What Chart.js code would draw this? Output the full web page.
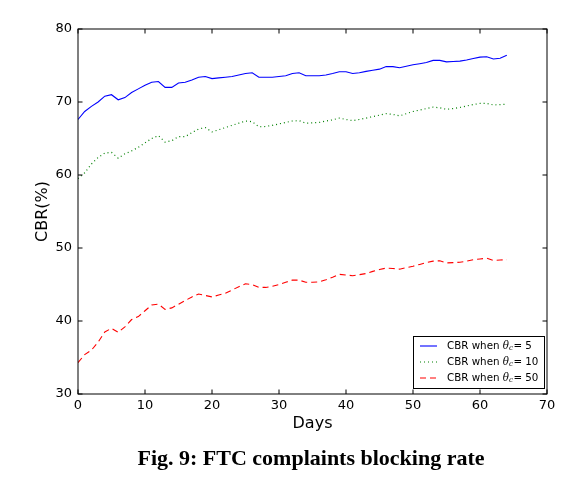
<!DOCTYPE html>
<html>
<head>
<meta charset="utf-8">
<script src="https://cdn.jsdelivr.net/npm/chart.js@4.4.0/dist/chart.umd.min.js"></script>
<style>
  html, body { margin: 0; padding: 0; background: #fff; }
  canvas { display: block; }
</style>
</head>
<body>
<canvas id="cbrChart" width="574" height="483"></canvas>
<script>
// Days 0..64
const days = [0,1,2,3,4,5,6,7,8,9,10,11,12,13,14,15,16,17,18,19,20,21,22,23,24,25,26,27,28,29,30,31,32,
  33,34,35,36,37,38,39,40,41,42,43,44,45,46,47,48,49,50,51,52,53,54,55,56,57,58,59,60,61,62,63,64];

// CBR when theta_c = 5
const cbr5 = [67.6,68.7,69.4,70.0,70.8,71.0,70.3,70.6,71.3,71.8,72.3,72.7,72.8,72.0,72.0,72.6,72.7,
  73.0,73.4,73.5,73.2,73.3,73.4,73.5,73.7,73.9,74.0,73.4,73.4,73.4,73.5,73.6,73.9,74.0,73.6,73.6,73.6,
  73.7,73.9,74.15,74.15,73.9,74.0,74.2,74.35,74.5,74.85,74.85,74.7,74.9,75.1,75.25,75.4,75.7,75.7,
  75.5,75.55,75.6,75.75,75.95,76.15,76.2,75.9,76.0,76.4];

// CBR when theta_c = 10
const cbr10 = [59.5,60.3,61.5,62.4,63.0,63.1,62.3,62.9,63.3,63.8,64.4,65.0,65.4,64.5,64.7,65.25,65.25,
  65.8,66.3,66.5,65.9,66.2,66.5,66.8,67.1,67.4,67.3,66.6,66.65,66.8,67.0,67.2,67.4,67.45,67.1,67.15,
  67.2,67.4,67.55,67.8,67.6,67.45,67.6,67.8,68.0,68.2,68.4,68.3,68.1,68.4,68.7,68.9,69.1,69.3,69.2,
  69.0,69.1,69.25,69.45,69.65,69.8,69.8,69.6,69.65,69.7];

// CBR when theta_c = 50
const cbr50 = [34.3,35.4,36.0,37.1,38.5,39.0,38.45,39.2,40.2,40.6,41.4,42.2,42.3,41.6,41.8,42.3,42.8,
  43.3,43.7,43.5,43.3,43.55,43.8,44.25,44.7,45.1,45.0,44.6,44.6,44.75,45.0,45.3,45.6,45.6,45.3,45.3,
  45.35,45.65,46.0,46.4,46.3,46.2,46.35,46.5,46.8,47.05,47.25,47.2,47.1,47.3,47.5,47.75,48.0,48.2,
  48.25,47.95,48.0,48.05,48.2,48.4,48.5,48.6,48.3,48.35,48.4];

const thetaValues = ['5', '10', '50'];
const xTicks = [0, 10, 20, 30, 40, 50, 60, 70];
const yTicks = [30, 40, 50, 60, 70, 80];

const SANS = '"DejaVu Sans", sans-serif';

function toPoints(vals) {
  return vals.map((v, i) => ({ x: days[i], y: v }));
}

// frame + inward ticks on all four sides
const framePlugin = {
  id: 'frame',
  afterDatasetsDraw(chart) {
    const { ctx, chartArea: a, scales: { x, y } } = chart;
    const len = 4.5;
    ctx.save();
    ctx.strokeStyle = '#000';
    ctx.lineWidth = 1;
    ctx.strokeRect(a.left, a.top, a.right - a.left, a.bottom - a.top);
    ctx.beginPath();
    xTicks.forEach(v => {
      const px = x.getPixelForValue(v);
      ctx.moveTo(px, a.bottom); ctx.lineTo(px, a.bottom - len);
      ctx.moveTo(px, a.top); ctx.lineTo(px, a.top + len);
    });
    yTicks.forEach(v => {
      const py = y.getPixelForValue(v);
      ctx.moveTo(a.left, py); ctx.lineTo(a.left + len, py);
      ctx.moveTo(a.right, py); ctx.lineTo(a.right - len, py);
    });
    ctx.stroke();
    ctx.restore();
  }
};

// boxed legend in lower right, with theta_c subscript
const legendPlugin = {
  id: 'boxLegend',
  afterDraw(chart) {
    const { ctx } = chart;
    const box = { x: 413.5, y: 336.5, w: 131, h: 52 };
    ctx.save();
    ctx.fillStyle = '#fff';
    ctx.fillRect(box.x, box.y, box.w, box.h);
    ctx.strokeStyle = '#000';
    ctx.lineWidth = 1;
    ctx.strokeRect(box.x, box.y, box.w, box.h);

    chart.data.datasets.forEach((ds, i) => {
      const cy = 346 + i * 16;
      ctx.strokeStyle = ds.borderColor;
      ctx.lineWidth = ds.borderWidth;
      ctx.setLineDash(ds.borderDash || []);
      ctx.beginPath();
      ctx.moveTo(420, cy);
      ctx.lineTo(437, cy);
      ctx.stroke();
      ctx.setLineDash([]);

      ctx.fillStyle = '#000';
      ctx.textBaseline = 'middle';
      ctx.textAlign = 'left';
      let tx = 447;
      ctx.font = '10.3px ' + SANS;
      ctx.fillText('CBR when ', tx, cy);
      tx += ctx.measureText('CBR when ').width;
      ctx.font = 'italic 10.3px "DejaVu Serif", serif';
      ctx.fillText('\u03b8', tx, cy);
      tx += ctx.measureText('\u03b8').width;
      ctx.font = 'italic 7px "DejaVu Serif", serif';
      ctx.fillText('c', tx, cy + 2.5);
      tx += ctx.measureText('c').width + 0.5;
      ctx.font = '10.3px ' + SANS;
      ctx.fillText('= ' + thetaValues[i], tx, cy);
    });
    ctx.restore();
  }
};

// figure caption
const captionPlugin = {
  id: 'caption',
  afterDraw(chart) {
    const { ctx } = chart;
    ctx.save();
    ctx.fillStyle = '#000';
    ctx.font = 'bold 22px "Liberation Serif", "Times New Roman", serif';
    ctx.textAlign = 'center';
    ctx.textBaseline = 'alphabetic';
    ctx.fillText('Fig. 9: FTC complaints blocking rate', 311, 465);
    ctx.restore();
  }
};

const ctx = document.getElementById('cbrChart').getContext('2d');
new Chart(ctx, {
  type: 'line',
  data: {
    datasets: [
      {
        label: 'CBR when \u03b8c= 5',
        data: toPoints(cbr5),
        borderColor: '#0000ff',
        borderWidth: 1.1,
        pointRadius: 0,
        tension: 0,
        fill: false
      },
      {
        label: 'CBR when \u03b8c= 10',
        data: toPoints(cbr10),
        borderColor: '#008000',
        borderWidth: 1.2,
        borderDash: [1, 3],
        pointRadius: 0,
        tension: 0,
        fill: false
      },
      {
        label: 'CBR when \u03b8c= 50',
        data: toPoints(cbr50),
        borderColor: '#ff0000',
        borderWidth: 1.1,
        borderDash: [6, 4],
        pointRadius: 0,
        tension: 0,
        fill: false
      }
    ]
  },
  options: {
    responsive: false,
    animation: false,
    layout: { padding: { left: 0, top: 29, right: 27, bottom: 0 } },
    plugins: {
      legend: { display: false },
      tooltip: { enabled: false }
    },
    scales: {
      x: {
        type: 'linear',
        min: 0,
        max: 70,
        grid: { display: false, drawTicks: false },
        border: { display: false },
        afterFit(scale) { scale.height = 89; },
        afterBuildTicks(scale) { scale.ticks = xTicks.map(v => ({ value: v })); },
        ticks: {
          color: '#000',
          padding: 4,
          maxRotation: 0,
          font: { family: SANS, size: 13 }
        },
        title: {
          display: true,
          text: 'Days',
          color: '#000',
          font: { family: SANS, size: 16 },
          padding: { top: 0, bottom: 50 }
        }
      },
      y: {
        min: 30,
        max: 80,
        grid: { display: false, drawTicks: false },
        border: { display: false },
        afterFit(scale) { scale.width = 78; },
        afterBuildTicks(scale) { scale.ticks = yTicks.map(v => ({ value: v })); },
        ticks: {
          color: '#000',
          padding: 6,
          font: { family: SANS, size: 13 }
        },
        title: {
          display: true,
          text: 'CBR(%)',
          color: '#000',
          font: { family: SANS, size: 16 },
          padding: { top: 33, bottom: 0 }
        }
      }
    }
  },
  plugins: [framePlugin, legendPlugin, captionPlugin]
});
</script>
</body>
</html>
